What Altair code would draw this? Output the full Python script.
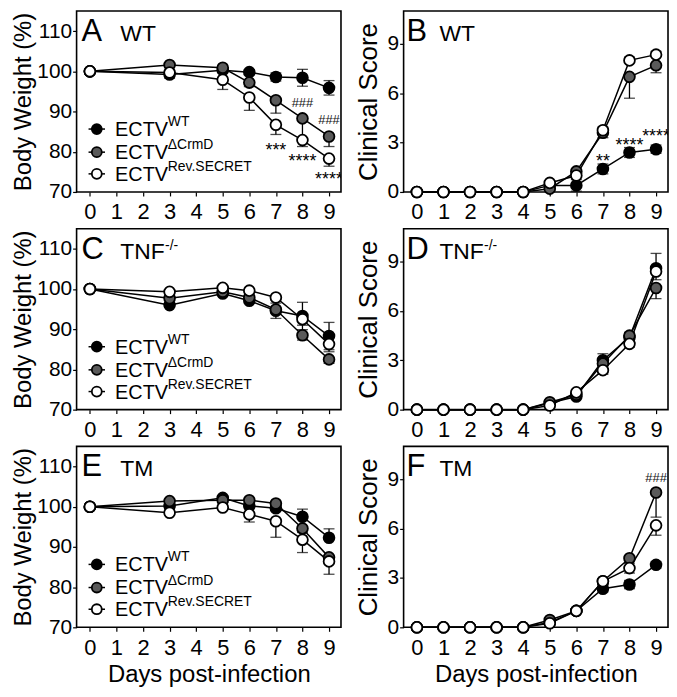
import altair as alt
import pandas as pd

FONT = "Liberation Sans"

BW_DAYS = [0, 3, 5, 6, 7, 8, 9]
CS_DAYS = [0, 1, 2, 3, 4, 5, 6, 7, 8, 9]
X_TICKS = [0, 1, 2, 3, 4, 5, 6, 7, 8, 9]
BW_TICKS = [70, 80, 90, 100, 110]
CS_TICKS = [0, 3, 6, 9]

SERIES = ["WT", "ΔCrmD", "Rev.SECRET"]
FILLS = ["#000000", "#5a5a5a", "#ffffff"]

# ---- Panel A: WT mice, body weight (%)
A_WT = [100, 99.2, 100.3, 99.8, 98.6, 98.4, 95.9]
A_WT_SEM = [0, 0.9, 0.5, 0.6, 1.0, 2.1, 1.8]
A_CRMD = [100, 101.6, 100.9, 97.2, 92.8, 88.3, 83.8]
A_CRMD_SEM = [0, 0.5, 0.5, 1.0, 3.2, 5.0, 2.5]
A_REV = [100, 99.7, 97.9, 93.5, 86.7, 82.9, 78.3]
A_REV_SEM = [0, 0.6, 2.4, 3.2, 2.4, 1.6, 1.9]

# ---- Panel B: WT mice, clinical score
B_WT = [0, 0, 0, 0, 0, 0.4, 0.4, 1.4, 2.4, 2.6]
B_WT_SEM = [0, 0, 0, 0, 0, 0.1, 0.35, 0.3, 0.3, 0.25]
B_CRMD = [0, 0, 0, 0, 0, 0.2, 1.25, 3.6, 7.0, 7.7]
B_CRMD_SEM = [0, 0, 0, 0, 0, 0.1, 0.2, 0.3, 1.3, 0.45]
B_REV = [0, 0, 0, 0, 0, 0.55, 1.0, 3.75, 8.0, 8.35]
B_REV_SEM = [0, 0, 0, 0, 0, 0.1, 0.2, 0.2, 0.2, 0.2]

# ---- Panel C: TNF-/- mice, body weight (%)
C_WT = [100, 96.0, 98.9, 97.1, 94.6, 93.3, 88.3]
C_WT_SEM = [0, 0.5, 0.4, 0.6, 1.9, 3.4, 3.4]
C_CRMD = [100, 97.7, 99.3, 97.9, 94.9, 88.5, 82.5]
C_CRMD_SEM = [0, 0.5, 0.4, 0.5, 1.0, 1.2, 1.0]
C_REV = [100, 99.3, 100.3, 99.6, 97.9, 92.5, 86.3]
C_REV_SEM = [0, 0.4, 0.4, 0.5, 0.6, 1.5, 1.9]

# ---- Panel D: TNF-/- mice, clinical score
D_WT = [0, 0, 0, 0, 0, 0.4, 0.8, 3.0, 4.4, 8.6]
D_WT_SEM = [0, 0, 0, 0, 0, 0.1, 0.15, 0.4, 0.3, 0.9]
D_CRMD = [0, 0, 0, 0, 0, 0.45, 0.9, 2.8, 4.5, 7.4]
D_CRMD_SEM = [0, 0, 0, 0, 0, 0.1, 0.15, 0.3, 0.3, 0.65]
D_REV = [0, 0, 0, 0, 0, 0.25, 1.05, 2.4, 4.0, 8.4]
D_REV_SEM = [0, 0, 0, 0, 0, 0.1, 0.2, 0.25, 0.2, 0.5]

# ---- Panel E: TM mice, body weight (%)
E_WT = [100, 100.2, 102.2, 100.2, 99.6, 97.5, 92.3]
E_WT_SEM = [0, 0.5, 0.6, 0.6, 0.7, 1.9, 2.2]
E_CRMD = [100, 101.4, 101.6, 101.6, 100.8, 94.6, 87.4]
E_CRMD_SEM = [0, 0.5, 0.5, 0.5, 0.5, 1.0, 1.0]
E_REV = [100, 98.5, 99.8, 98.1, 96.4, 91.8, 86.4]
E_REV_SEM = [0, 0.5, 0.5, 1.9, 4.0, 3.2, 3.2]

# ---- Panel F: TM mice, clinical score
F_WT = [0, 0, 0, 0, 0, 0.3, 1.0, 2.35, 2.6, 3.8]
F_WT_SEM = [0, 0, 0, 0, 0, 0.1, 0.1, 0.2, 0.25, 0.2]
F_CRMD = [0, 0, 0, 0, 0, 0.45, 1.0, 2.8, 4.2, 8.2]
F_CRMD_SEM = [0, 0, 0, 0, 0, 0.1, 0.1, 0.2, 0.3, 1.5]
F_REV = [0, 0, 0, 0, 0, 0.25, 1.0, 2.8, 3.6, 6.2]
F_REV_SEM = [0, 0, 0, 0, 0, 0.1, 0.1, 0.2, 0.3, 0.6]

# error bar direction per panel/series (GraphPad-style one-sided bars)
ERR_DIR = {
    "A": ["both", "down", "down"],
    "B": ["both", "down", "up"],
    "C": ["both", "down", "down"],
    "D": ["up", "down", "down"],
    "E": ["up", "down", "down"],
    "F": ["both", "down", "down"],
}

# significance marks: panel, day, value (glyph centre), text
ANNOT_PANEL = ["A", "A", "A", "A", "A", "B", "B", "B", "F"]
ANNOT_DAY = [8, 9, 7, 8, 9, 7, 8, 9, 9]
ANNOT_VALUE = [92.1, 88.0, 81.5, 78.6, 74.3, 2.1, 3.1, 3.65, 9.05]
ANNOT_TEXT = ["###", "###", "***", "****", "****", "**", "****", "****", "###"]

PANELS = {
    "A": dict(kind="bw", group="WT", sup="", days=BW_DAYS,
              vals=[A_WT, A_CRMD, A_REV], sems=[A_WT_SEM, A_CRMD_SEM, A_REV_SEM]),
    "B": dict(kind="cs", group="WT", sup="", days=CS_DAYS,
              vals=[B_WT, B_CRMD, B_REV], sems=[B_WT_SEM, B_CRMD_SEM, B_REV_SEM]),
    "C": dict(kind="bw", group="TNF", sup="-/-", days=BW_DAYS,
              vals=[C_WT, C_CRMD, C_REV], sems=[C_WT_SEM, C_CRMD_SEM, C_REV_SEM]),
    "D": dict(kind="cs", group="TNF", sup="-/-", days=CS_DAYS,
              vals=[D_WT, D_CRMD, D_REV], sems=[D_WT_SEM, D_CRMD_SEM, D_REV_SEM]),
    "E": dict(kind="bw", group="TM", sup="", days=BW_DAYS,
              vals=[E_WT, E_CRMD, E_REV], sems=[E_WT_SEM, E_CRMD_SEM, E_REV_SEM]),
    "F": dict(kind="cs", group="TM", sup="", days=CS_DAYS,
              vals=[F_WT, F_CRMD, F_REV], sems=[F_WT_SEM, F_CRMD_SEM, F_REV_SEM]),
}

# legend layout (in data units of the body-weight panels)
LEG_Y = [85.65, 79.9, 74.5]
LEG_SYM_X = 0.26
LEG_LINE_X = [-0.05, 0.57]
LEG_TEXT_X = 0.95

W, H = 266, 182
X_DOMAIN = [-0.5, 9.45]


def panel(key, bottom):
    p = PANELS[key]
    rows = []
    for si, (s, vals, sems) in enumerate(zip(SERIES, p["vals"], p["sems"])):
        d = ERR_DIR[key][si]
        for day, v, e in zip(p["days"], vals, sems):
            lo = v - e if d in ("both", "down") else v
            hi = v + e if d in ("both", "up") else v
            rows.append(dict(series=s, sidx=si, day=day, value=v, sem=e, lo=lo, hi=hi))
    df = pd.DataFrame(rows)

    if p["kind"] == "bw":
        ydom = [70, 115]
        yaxis = alt.Axis(values=BW_TICKS, title="Body Weight (%)", format="d",
                         titleFontSize=24, titlePadding=1)
    else:
        ydom = [0, 11]
        yaxis = alt.Axis(values=CS_TICKS, title="Clinical Score", format="d",
                         titleFontSize=26, titlePadding=6)

    xaxis = alt.Axis(values=X_TICKS, title="Days post-infection" if bottom else None,
                     format="d")
    xs = alt.Scale(domain=X_DOMAIN, nice=False, zero=False)
    ys = alt.Scale(domain=ydom, nice=False, zero=False)

    def X(f):
        return alt.X(f, type="quantitative", scale=xs, axis=xaxis)

    def Y(f):
        return alt.Y(f, type="quantitative", scale=ys, axis=yaxis)

    base = alt.Chart(df)
    err = base.transform_filter("datum.sem > 0").mark_errorbar(
        ticks=True, size=11, thickness=1.3, color="black"
    ).encode(x=X("day"), y=Y("lo"), y2="hi")
    line = base.mark_line(color="black", strokeWidth=1.5).encode(
        x=X("day"), y=Y("value"), detail="series:N")
    pts = base.mark_point(shape="circle", filled=True, size=118, stroke="black",
                          strokeWidth=1.8, opacity=1).encode(
        x=X("day"), y=Y("value"),
        fill=alt.Fill("series:N", scale=alt.Scale(domain=SERIES, range=FILLS), legend=None),
        order=alt.Order("sidx:Q"))

    layers = [err, line, pts]

    # significance annotations
    adf = pd.DataFrame(dict(panel=ANNOT_PANEL, day=ANNOT_DAY, value=ANNOT_VALUE, text=ANNOT_TEXT))
    adf = adf[adf.panel == key]
    if len(adf):
        stars = adf[adf.text.str.startswith("*")]
        hashes = adf[adf.text.str.startswith("#")]
        if len(stars):
            layers.append(alt.Chart(stars).mark_text(
                fontSize=18, font=FONT, color="black", baseline="middle", dy=5, clip=True
            ).encode(x=X("day"), y=Y("value"), text="text:N"))
        if len(hashes):
            layers.append(alt.Chart(hashes).mark_text(
                fontSize=13, font=FONT, color="#111111", baseline="middle", clip=True
            ).encode(x=X("day"), y=Y("value"), text="text:N"))

    # panel letter and group label
    lx = 5 if p["kind"] == "bw" else 3
    gx = 44 if p["kind"] == "bw" else 36
    lbl = pd.DataFrame(dict(t=[key]))
    layers.append(alt.Chart(lbl).mark_text(
        fontSize=31, font=FONT, align="left", baseline="alphabetic", color="black"
    ).encode(x=alt.value(lx), y=alt.value(30), text="t:N"))
    grp = pd.DataFrame(dict(t=[p["group"]]))
    layers.append(alt.Chart(grp).mark_text(
        fontSize=23, font=FONT, align="left", baseline="alphabetic", color="black"
    ).encode(x=alt.value(gx), y=alt.value(30), text="t:N"))
    if p["sup"]:
        sup = pd.DataFrame(dict(t=[p["sup"]]))
        layers.append(alt.Chart(sup).mark_text(
            fontSize=14, font=FONT, align="left", baseline="alphabetic", color="black",
            dx=45, dy=-9
        ).encode(x=alt.value(gx), y=alt.value(30), text="t:N"))

    # legend in body-weight panels
    if p["kind"] == "bw":
        ldf = pd.DataFrame(dict(series=SERIES, sidx=[0, 1, 2], y=LEG_Y,
                                x=[LEG_SYM_X] * 3, x1=[LEG_LINE_X[0]] * 3,
                                x2=[LEG_LINE_X[1]] * 3, tx=[LEG_TEXT_X] * 3,
                                main=["ECTV"] * 3, sup=SERIES))
        lb = alt.Chart(ldf)
        layers.append(lb.mark_rule(color="black", strokeWidth=1.5).encode(
            x=X("x1"), x2="x2", y=Y("y")))
        layers.append(lb.mark_point(shape="circle", filled=True, size=100, stroke="black",
                                    strokeWidth=1.8, opacity=1).encode(
            x=X("x"), y=Y("y"),
            fill=alt.Fill("series:N", scale=alt.Scale(domain=SERIES, range=FILLS), legend=None)))
        layers.append(lb.mark_text(fontSize=20, font=FONT, align="left", baseline="middle",
                                   color="black", dy=1).encode(
            x=X("tx"), y=Y("y"), text="main:N"))
        layers.append(lb.mark_text(fontSize=14, font=FONT, align="left", baseline="middle",
                                   color="black", dx=53, dy=-7).encode(
            x=X("tx"), y=Y("y"), text="sup:N"))

    return alt.layer(*layers).properties(width=W, height=H)


charts = [panel(k, k in ("E", "F")) for k in ["A", "B", "C", "D", "E", "F"]]

chart = alt.concat(*charts, columns=2, spacing={"row": 37, "column": 63},
                   bounds="flush").properties(
    padding={"left": 3, "top": 0, "right": 0, "bottom": 3}
).configure(
    font=FONT
).configure_view(
    stroke="black", strokeWidth=1.6
).configure_axis(
    domain=False, grid=False, ticks=True, tickColor="black", tickWidth=1.2, tickSize=4,
    labelFont=FONT, labelFontSize=22, labelColor="black",
    titleFont=FONT, titleFontWeight="normal", titleColor="black"
).configure_axisY(
    labelFontSize=21, labelPadding=1
).configure_axisX(
    labelPadding=6, titleFontSize=24, titlePadding=5
)

chart.save("out.html", embed_options={"renderer": "svg", "actions": False})
